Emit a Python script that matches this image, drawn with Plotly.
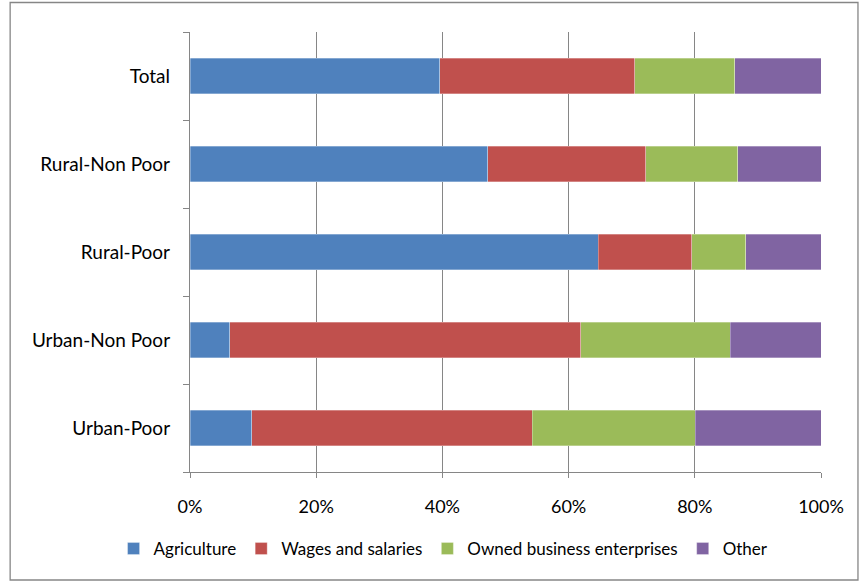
import plotly.graph_objects as go

# Household income sources by group (share of total income)
groups = ["Urban-Poor", "Urban-Non Poor", "Rural-Poor", "Rural-Non Poor", "Total"]
agriculture = [0.098, 0.063, 0.647, 0.472, 0.396]
wages_salaries = [0.444, 0.556, 0.148, 0.250, 0.309]
owned_business = [0.259, 0.237, 0.086, 0.146, 0.158]
other = [0.199, 0.144, 0.119, 0.132, 0.137]

series = [
    ("Agriculture", agriculture, "#4F81BD"),
    ("Wages and salaries", wages_salaries, "#C0504D"),
    ("Owned business enterprises", owned_business, "#9BBB59"),
    ("Other", other, "#8064A2"),
]

FONT = "Lato, 'Open Sans', sans-serif"
AXIS_GRAY = "#868686"

fig = go.Figure()
for name, vals, color in series:
    fig.add_trace(go.Bar(
        y=groups, x=vals, name=name, orientation="h",
        marker=dict(color=color, line=dict(color="rgba(255,255,255,0.5)", width=0.6)),
        width=0.4,
    ))

W, H = 867, 583
L, R, T, B = 189.5, 46, 32, 111
pw, ph = W - L - R, H - T - B

def px_x(x):
    return (x - L) / pw

def px_y(y):
    return (H - B - y) / ph

fig.update_layout(
    width=W, height=H,
    barmode="stack",
    bargap=0.6,
    plot_bgcolor="white",
    paper_bgcolor="white",
    margin=dict(l=L, r=R, t=T, b=B, pad=0, autoexpand=False),
    font=dict(family=FONT, color="black", size=18),
    showlegend=True,
    legend=dict(
        orientation="h",
        x=px_x(113), xanchor="left",
        y=px_y(549), yanchor="middle",
        font=dict(size=17, family=FONT, color="black"),
        traceorder="normal",
        itemwidth=30,
        bgcolor="rgba(0,0,0,0)",
    ),
    xaxis=dict(
        range=[0, 1], dtick=0.2, tickformat=".0%",
        showgrid=True, gridcolor=AXIS_GRAY, gridwidth=1.3,
        showline=True, linecolor=AXIS_GRAY, linewidth=1.3,
        ticks="outside", ticklen=5, tickcolor=AXIS_GRAY, tickwidth=1.3,
        ticklabelstandoff=13,
        zeroline=False, fixedrange=True,
        tickfont=dict(size=18, family=FONT),
    ),
    yaxis=dict(
        categoryorder="array", categoryarray=groups,
        showline=True, linecolor=AXIS_GRAY, linewidth=1.3,
        ticks="outside", ticklen=6, tickcolor=AXIS_GRAY, tickwidth=1.3,
        tickson="boundaries",
        ticklabelstandoff=15,
        showgrid=False, zeroline=False,
        tickfont=dict(size=19, family=FONT),
    ),
    shapes=[dict(
        type="rect", xref="paper", yref="paper",
        x0=px_x(9.5), x1=px_x(858), y0=px_y(580), y1=px_y(2.5),
        line=dict(color=AXIS_GRAY, width=1.3), fillcolor="rgba(0,0,0,0)",
        layer="below",
    )],
)

fig.write_html("out.html")
